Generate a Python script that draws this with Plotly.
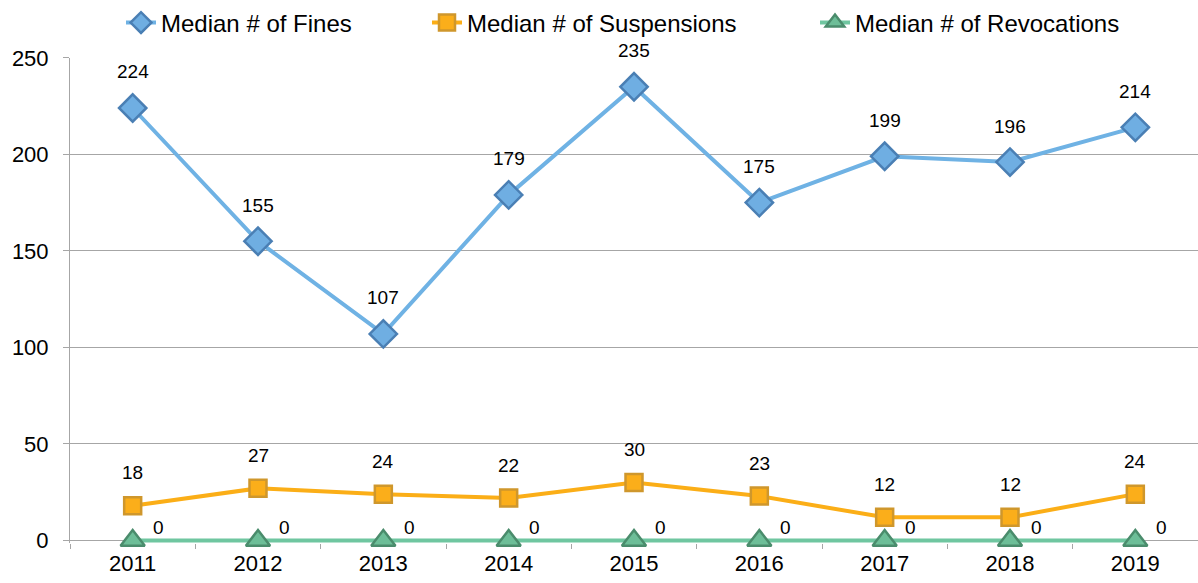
import plotly.graph_objects as go

years = ["2011", "2012", "2013", "2014", "2015", "2016", "2017", "2018", "2019"]
fines = [224, 155, 107, 179, 235, 175, 199, 196, 214]
suspensions = [18, 27, 24, 22, 30, 23, 12, 12, 24]
revocations = [0, 0, 0, 0, 0, 0, 0, 0, 0]

FONT = "Liberation Sans, Arial, sans-serif"
W, H = 1198, 583
GRID = "#A6A6A6"

fig = go.Figure()

series = [
    ("Median # of Fines", fines, "#6FB2E4", "#6FAEE2", "#4A7FB4", "diamond", 21, "legend", 121),
    ("Median # of Suspensions", suspensions, "#FBAE17", "#FBAE1A", "#CF972C", "square", 17, "legend2", 427),
    ("Median # of Revocations", revocations, "#6FC6A0", "#6DBE98", "#4A8C6C", "triangle-up", 21, "legend3", 815),
]
legend_layout = {}
for name, vals, lc, fc, ec, sym, sz, lg, lx in series:
    fig.add_trace(go.Scatter(
        x=years, y=vals, name=name, mode="lines+markers", legend=lg,
        cliponaxis=False,
        line=dict(color=lc, width=4),
        marker=dict(symbol=sym, size=sz, color=fc, line=dict(color=ec, width=2.5)),
    ))
    legend_layout[lg] = dict(
        xref="container", yref="container", x=lx / W, xanchor="left",
        y=1 - 23 / H, yanchor="middle", orientation="h",
        font=dict(family=FONT, size=24, color="#000"),
        bgcolor="rgba(0,0,0,0)", borderwidth=0,
    )

# data labels (category index used for x)
for i, v in enumerate(fines):
    fig.add_annotation(x=i, y=v, text=str(v), showarrow=False, yshift=36,
                       font=dict(family=FONT, size=19, color="#000"))
for i, v in enumerate(suspensions):
    fig.add_annotation(x=i, y=v, text=str(v), showarrow=False, yshift=33,
                       font=dict(family=FONT, size=19, color="#000"))
for i, v in enumerate(revocations):
    fig.add_annotation(x=i, y=v, text=str(v), showarrow=False, xshift=26, yshift=13,
                       font=dict(family=FONT, size=19, color="#000"))

fig.update_layout(
    width=W, height=H,
    margin=dict(l=70, r=0, t=54, b=40),
    paper_bgcolor="white", plot_bgcolor="white",
    font=dict(family=FONT, size=22, color="#000"),
    showlegend=True,
    xaxis=dict(
        type="category", range=[-0.5, 8.5],
        showgrid=False, showline=False,
        ticks="outside", ticklen=5, tickcolor=GRID, tickson="boundaries",
        tickfont=dict(size=22), ticklabelstandoff=5,
    ),
    yaxis=dict(
        range=[-1.3, 250], tickvals=[0, 50, 100, 150, 200, 250],
        showgrid=True, gridcolor=GRID, gridwidth=1,
        showline=True, linecolor=GRID, linewidth=1,
        ticks="outside", ticklen=6, tickcolor=GRID,
        tickfont=dict(size=22), ticklabelstandoff=10,
        zeroline=True, zerolinecolor=GRID, zerolinewidth=1,
    ),
    **legend_layout,
)

fig.write_html("out.html")
